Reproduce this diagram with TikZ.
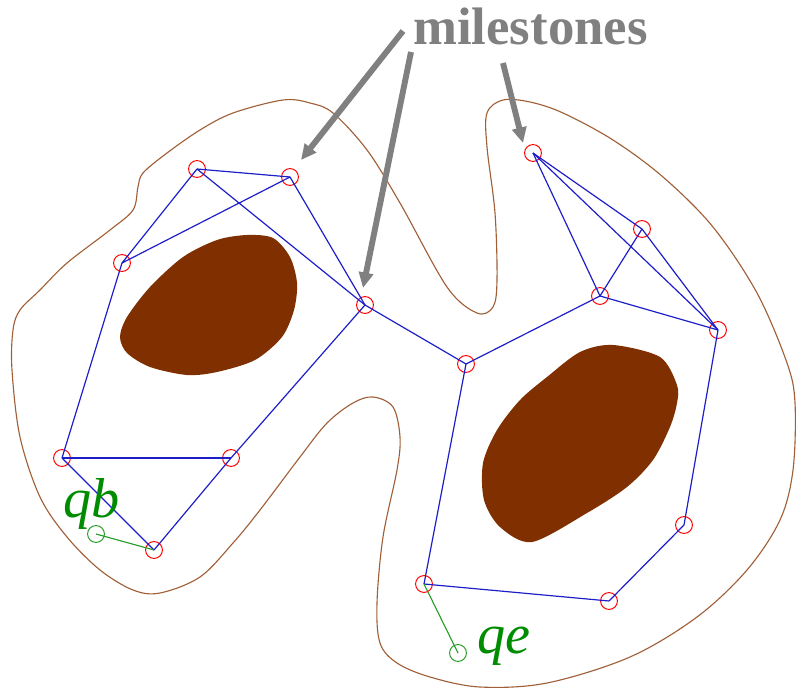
\documentclass[tikz,border=0pt]{standalone}
\usepackage{fontspec}
\setmainfont{Liberation Serif}
\usepackage{xcolor}
\usetikzlibrary{arrows.meta}
\definecolor{marrom}{RGB}{128,48,0}
\definecolor{corContorno}{RGB}{160,95,55}
\definecolor{corAresta}{RGB}{30,30,200}
\definecolor{verde}{RGB}{0,140,0}
\tikzset{
    marco/.style={
        circle,
        draw=red,
        line width=0.7pt,
        minimum size=12pt,
        inner sep=0pt
    },
    extremo/.style={marco, draw=verde!85},
    aresta/.style={draw=corAresta, line width=0.85pt},
    ligacao/.style={draw=verde!85, line width=0.8pt},
    seta/.style={-{Triangle[length=11pt, width=10pt]}, line width=4.2pt, draw=gray},
    obstaculo/.style={fill=marrom, draw=none},
    contorno/.style={draw=corContorno, line width=0.8pt},
    rotuloQ/.style={text=verde, font=\itshape\fontsize{40}{44}\selectfont, anchor=base west, inner sep=0pt}
}

\begin{document}
\begin{tikzpicture}[x=0.025cm, y=-0.025cm]
    \useasboundingbox (0,0) rectangle (796,690);
    % contorno do espaco livre
    \draw[contorno] plot[smooth cycle, tension=0.55] coordinates {
        (12,370) (13,330) (20,310) (40,290) (67,263) (110,230) (133,210)
        (138,187) (143,173) (167,153) (200,130) (233,113) (283,100) (310,103)
        (333,113) (367,150) (400,203) (447,287) (477,313) (493,307) (497,280)
        (495,213) (487,147) (487,113) (503,100) (530,102) (563,113) (613,140)
        (663,177) (713,227) (757,293) (787,363) (795,403) (793,470) (780,520)
        (747,570) (697,617) (630,657) (547,683) (480,687) (430,677) (397,663)
        (380,643) (377,603) (383,537) (397,470) (400,437) (393,407) (373,397)
        (353,403) (327,423) (300,457) (260,510) (233,543) (200,577) (160,593)
        (133,590) (100,570) (67,537) (40,497) (20,437)};
    % obstaculos
    \fill[obstaculo] plot[smooth cycle] coordinates {
        (120,337) (127,317) (150,287) (183,257) (217,240) (247,235) (273,238)
        (290,257) (297,283) (294,310) (282,337) (255,360) (217,372) (187,375)
        (150,367) (127,353)};
    \fill[obstaculo] plot[smooth cycle] coordinates {
        (613,345) (660,357) (677,385) (677,403) (670,427) (653,460) (627,487)
        (587,513) (532,542) (500,527) (484,500) (483,463) (497,430)
        (520,400) (547,377) (580,352)};
    % marcos
    \node[marco] (m1) at (197,169) {};
    \node[marco] (m2) at (290,177) {};
    \node[marco] (m3) at (122,263) {};
    \node[marco] (m4) at (365,305) {};
    \node[marco] (m5) at (62,458) {};
    \node[marco] (m6) at (231,458) {};
    \node[marco] (m7) at (154,550) {};
    \node[marco] (m8) at (466,364) {};
    \node[marco] (m9) at (533,153) {};
    \node[marco] (m10) at (642,229) {};
    \node[marco] (m11) at (600,296) {};
    \node[marco] (m12) at (718,330) {};
    \node[marco] (m13) at (684,525) {};
    \node[marco] (m14) at (609,601) {};
    \node[marco] (m15) at (424,584) {};
    % arestas do grafo
    \foreach \a/\b in {m1/m2, m1/m3, m3/m2, m1/m4, m2/m4, m3/m5, m5/m6,
        m5/m7, m6/m7, m6/m4, m4/m8, m8/m11, m8/m15, m15/m14, m14/m13,
        m13/m12, m9/m10, m9/m11, m9/m12, m10/m11, m10/m12, m11/m12}
        \draw[aresta] (\a.center) -- (\b.center);
    % inicio e fim
    \node[extremo] (qb) at (96,534) {};
    \node[extremo] (qe) at (458,653) {};
    \draw[ligacao] (qb.center) -- (m7.center);
    \draw[ligacao] (qe.center) -- (m15.center);
    \node[rotuloQ] (lqb) at (63,517) {qb};
    \node[rotuloQ] (lqe) at (477,653) {qe};
    % rotulo e setas
    \node[text=gray, font=\bfseries\fontsize{37.5}{40}\selectfont,
        anchor=base west, inner sep=0pt] (rotulo) at (413,45) {milestones};
    \coordinate (a1) at (403,31);
    \coordinate (a2) at (411,52);
    \coordinate (a3) at (503,63);
    \coordinate (p1) at (301,160);
    \coordinate (p2) at (363,288);
    \coordinate (p3) at (523,143);
    \draw[seta] (a1) -- (p1);
    \draw[seta] (a2) -- (p2);
    \draw[seta] (a3) -- (p3);
\end{tikzpicture}
\end{document}
